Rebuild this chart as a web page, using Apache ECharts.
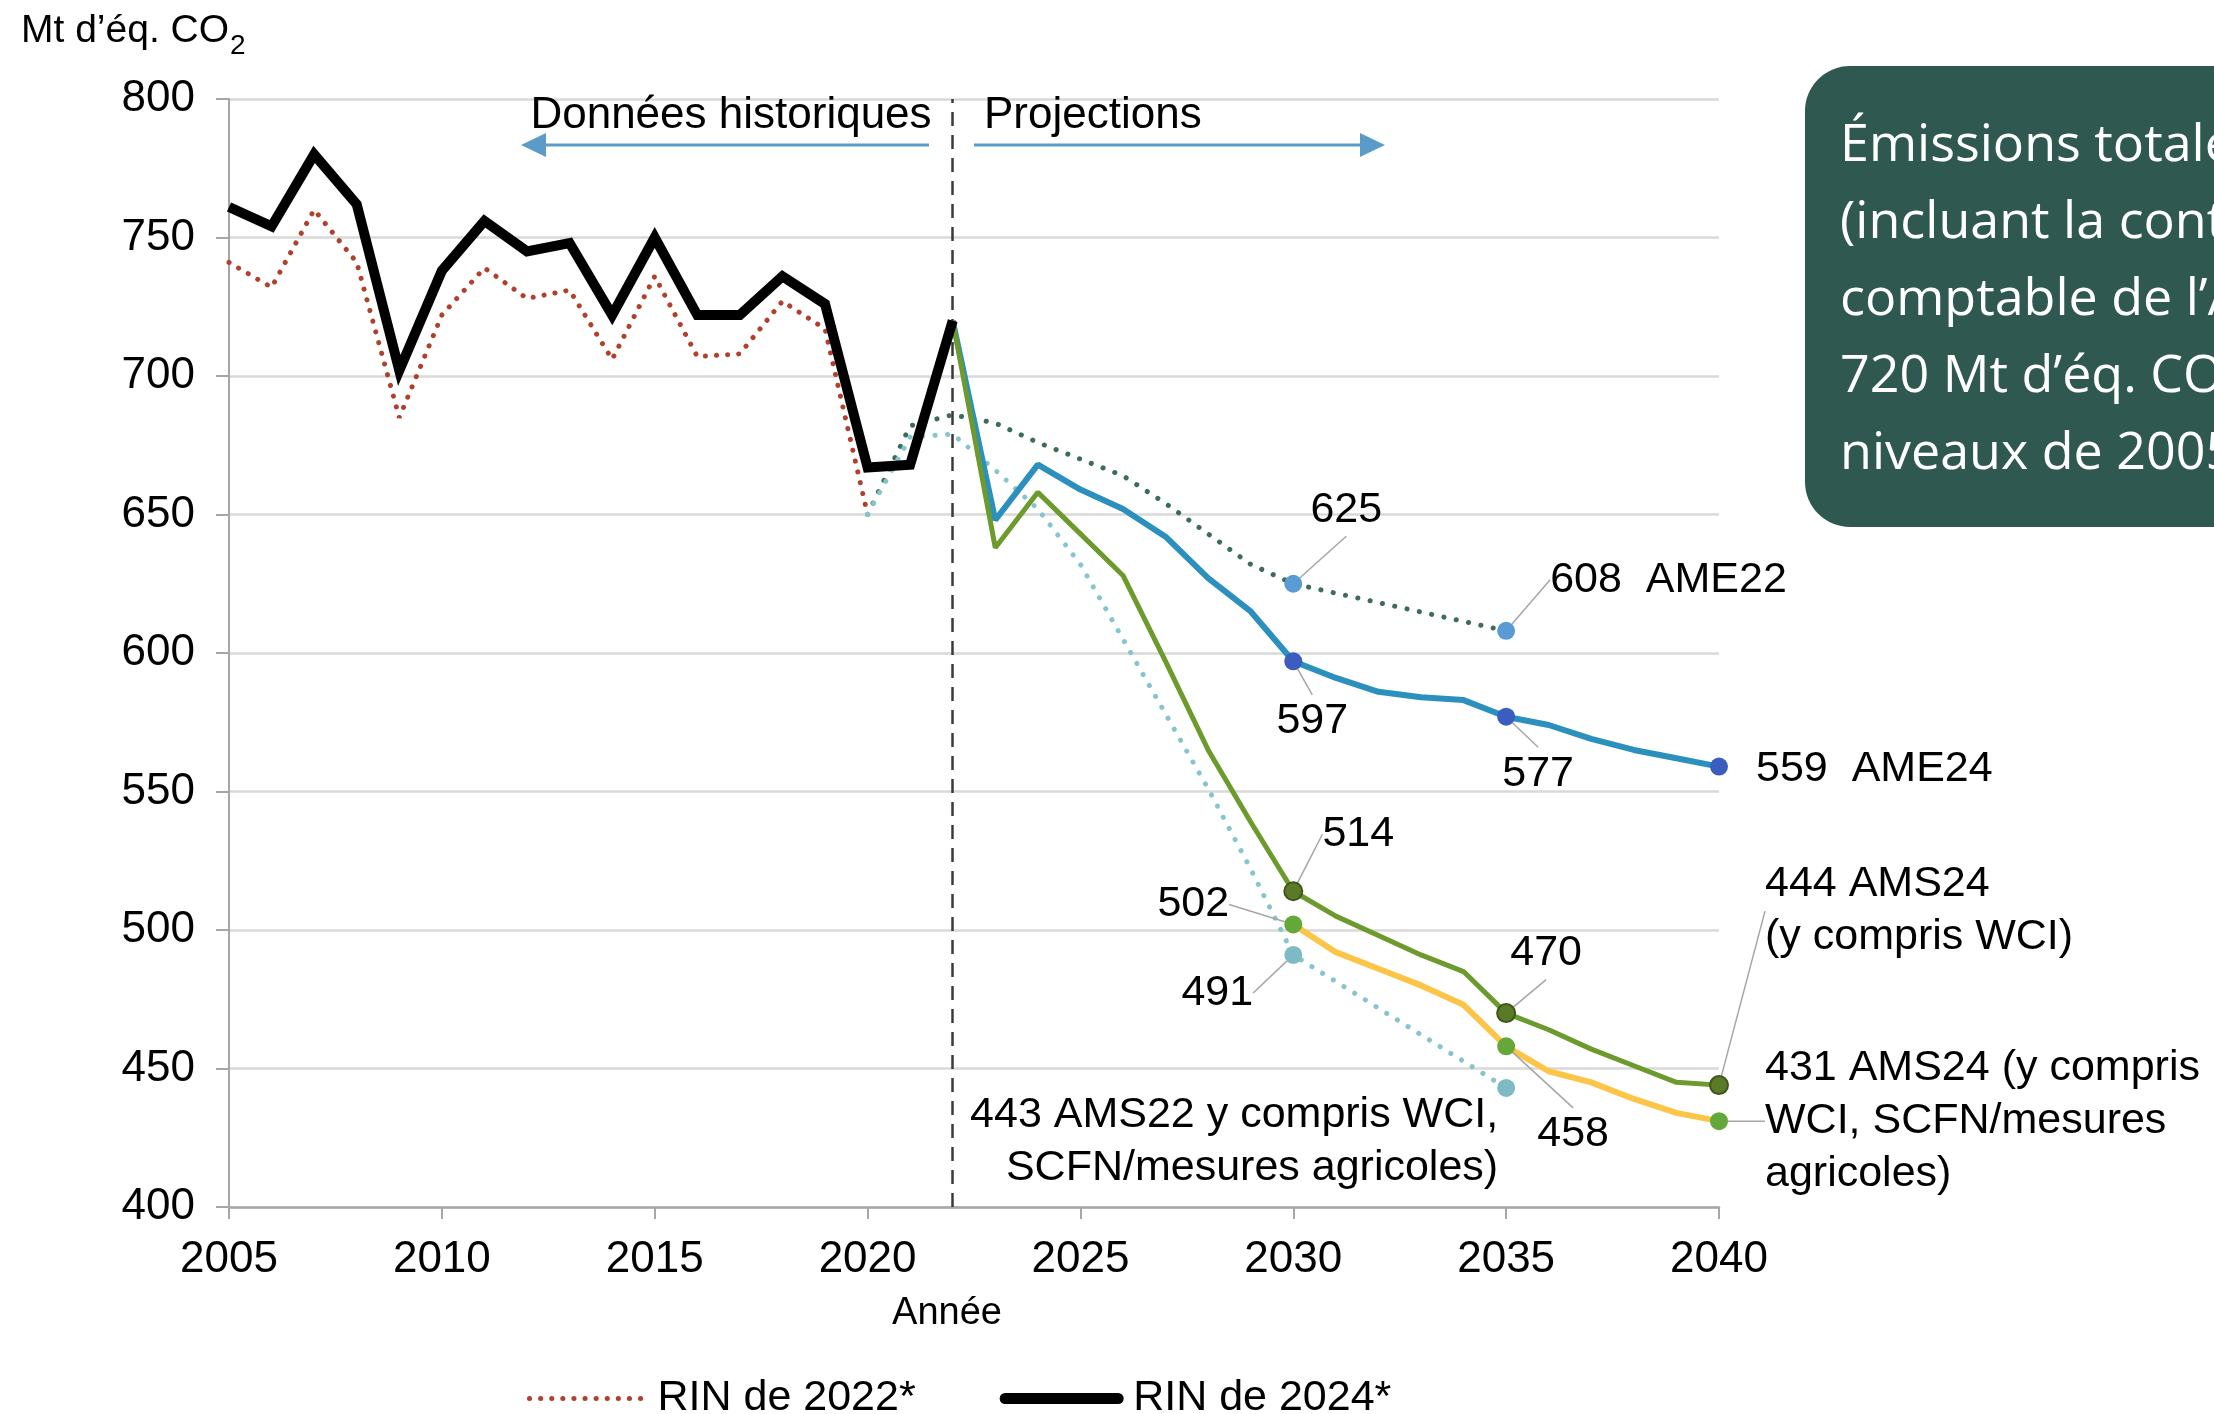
<!DOCTYPE html>
<html><head><meta charset="utf-8">
<script src="https://cdn.jsdelivr.net/npm/echarts@6/dist/echarts.min.js"></script>
<style>html,body{margin:0;padding:0;background:#fff}#c{width:2214px;height:1414px}</style>
</head><body><div id="c"></div>
<script>
// ---------- DATA ----------
const yearsRIN2022 = [2005,2006,2007,2008,2009,2010,2011,2012,2013,2014,2015,2016,2017,2018,2019,2020];
const rin2022 = [741,732,760,741,685,722,739,728,731,706,736,707,708,727,717,650];

const yearsRIN2024 = [2005,2006,2007,2008,2009,2010,2011,2012,2013,2014,2015,2016,2017,2018,2019,2020,2021,2022];
const rin2024 = [761,754,780,762,702,738,756,745,748,722,750,722,722,736,726,667,668,720];

const yearsAME22 = [2020,2021,2022,2023,2024,2025,2026,2027,2028,2029,2030,2035];
const ame22 = [650,682,686,683,676,670,664,654,643,632,625,608];

const yearsAMS22 = [2020,2021,2022,2023,2024,2025,2026,2027,2028,2029,2030,2035];
const ams22 = [650,678,679,666,652,632,605,578,551,522,491,443];

const yearsAME24 = [2022,2023,2024,2025,2026,2027,2028,2029,2030,2031,2032,2033,2034,2035,2036,2037,2038,2039,2040];
const ame24 = [720,648,668,659,652,642,627,615,597,591,586,584,583,577,574,569,565,562,559];

const yearsAMS24 = [2022,2023,2024,2025,2026,2027,2028,2029,2030,2031,2032,2033,2034,2035,2036,2037,2038,2039,2040];
const ams24 = [720,638,658,643,628,597,565,539,514,505,498,491,485,470,464,457,451,445,444];

const yearsAMS24b = [2030,2031,2032,2033,2034,2035,2036,2037,2038,2039,2040];
const ams24b = [502,492,486,480,473,458,449,445,439,434,431];

// marked points and the text that follows the value in their labels
const markedAME22 = [2030, 2035];           const suffixAME22 = ['', '  AME22'];
const markedAMS22 = [2030, 2035];           const suffixAMS22 = ['', ' AMS22 y compris WCI,\nSCFN/mesures agricoles)'];
const markedAME24 = [2030, 2035, 2040];     const suffixAME24 = ['', '', '  AME24'];
const markedAMS24 = [2030, 2035, 2040];     const suffixAMS24 = ['', '', ' AMS24\n(y compris WCI)'];
const markedAMS24b = [2030, 2035, 2040];    const suffixAMS24b = ['', '', ' AMS24 (y compris\nWCI, SCFN/mesures\nagricoles)'];

const xTicks = {min: 2005, max: 2040, step: 5};
const yTicks = {min: 400, max: 800, step: 50};

// ---------- STYLE / LAYOUT ----------
const FONT = '"Liberation Sans", Arial, Helvetica, sans-serif';
const labelPos = { // offsets from marker centre, by series index then year
  2: {2030: {dx: 53, dy: -74}, 2035: {dx: 44, dy: -51, align: 'left'}},
  3: {2030: {dx: -76, dy: 38}, 2035: {dx: -8, dy: 1, align: 'right', va: 'top', noLine: true}},
  4: {2030: {dx: 19, dy: 60}, 2035: {dx: 32, dy: 57}, 2040: {dx: 37, dy: 3, align: 'left', noLine: true}},
  5: {2030: {dx: 65, dy: -57}, 2035: {dx: 40, dy: -60}, 2040: {dx: 46, dy: -227, align: 'left', va: 'top'}},
  6: {2030: {dx: -100, dy: -20}, 2035: {dx: 67, dy: 88}, 2040: {dx: 46, dy: 0, align: 'left'}}
};
const seriesYears = [yearsRIN2022, yearsRIN2024, yearsAME22, yearsAMS22, yearsAME24, yearsAMS24, yearsAMS24b];

function build(years, vals, marked, suffix, color, border, sIdx) {
  return years.map((y, i) => {
    const k = marked.indexOf(y);
    if (k < 0) return {value: [y, vals[i]], symbol: 'none'};
    const spec = (labelPos[sIdx] || {})[y] || {};
    return {
      value: [y, vals[i]],
      symbol: 'circle', symbolSize: 18,
      itemStyle: {color: color, borderColor: border || color, borderWidth: border ? 2 : 0},
      label: {show: true, formatter: String(vals[i]) + suffix[k]},
      labelLine: {show: !spec.noLine}
    };
  });
}
function plain(years, vals) { return years.map((y, i) => [y, vals[i]]); }

function layoutFn(p) {
  const yr = seriesYears[p.seriesIndex][p.dataIndex];
  const spec = (labelPos[p.seriesIndex] || {})[yr];
  if (!spec) return {};
  const cx = p.rect.x + p.rect.width / 2, cy = p.rect.y + p.rect.height / 2;
  return {x: cx + spec.dx, y: cy + spec.dy, align: spec.align || 'center', verticalAlign: spec.va || 'middle'};
}

const labelBase = {show: false, fontSize: 43, color: '#000', fontFamily: FONT, lineHeight: 53};
const leader = {show: true, lineStyle: {color: '#A6A6A6', width: 1.5}};

const chart = echarts.init(document.getElementById('c'), null, {renderer: 'canvas'});
chart.setOption({
  animation: false,
  backgroundColor: '#fff',
  textStyle: {fontFamily: FONT},
  grid: {left: 229, right: 495, top: 99, bottom: 207, containLabel: false},
  xAxis: {
    type: 'value', min: xTicks.min, max: xTicks.max, interval: xTicks.step,
    axisLine: {show: true, lineStyle: {color: '#A6A6A6', width: 2.5}},
    axisTick: {show: true, length: 12, lineStyle: {color: '#A6A6A6', width: 2}},
    splitLine: {show: false},
    axisLabel: {fontSize: 44, color: '#000', margin: 31, fontFamily: FONT, formatter: v => String(v)},
    name: 'Année', nameLocation: 'middle', nameGap: 88,
    nameTextStyle: {fontSize: 38, color: '#000', fontFamily: FONT, padding: [0, 54, 0, 0]}
  },
  yAxis: {
    type: 'value', min: yTicks.min, max: yTicks.max, interval: yTicks.step,
    axisLine: {show: true, lineStyle: {color: '#A6A6A6', width: 2}},
    axisTick: {show: true, length: 13, lineStyle: {color: '#A6A6A6', width: 2}},
    splitLine: {show: true, lineStyle: {color: '#D9D9D9', width: 2.5}},
    axisLabel: {fontSize: 44, color: '#000', margin: 34, fontFamily: FONT}
  },
  legend: {
    data: [
      {name: 'RIN de 2022*', itemStyle: {opacity: 0},
       lineStyle: {color: '#B0402B', width: 5, type: [0.1, 11], cap: 'round'}},
      {name: 'RIN de 2024*', itemStyle: {opacity: 0},
       lineStyle: {color: '#000', width: 11, type: 'solid', cap: 'round'}}
    ],
    left: 522, top: 1372, itemWidth: 113, itemHeight: 24, itemGap: 84,
    textStyle: {fontSize: 43, color: '#000', fontFamily: FONT, padding: [0, 0, 0, 10]}
  },
  series: [
    {
      name: 'RIN de 2022*', type: 'line', data: plain(yearsRIN2022, rin2022), symbol: 'none', z: 2,
      lineStyle: {color: '#B0402B', width: 5, type: [0.1, 11], cap: 'round'},
      itemStyle: {color: '#B0402B'}
    },
    {
      name: 'RIN de 2024*', type: 'line', data: plain(yearsRIN2024, rin2024), symbol: 'none', z: 6,
      lineStyle: {color: '#000', width: 10, join: 'miter'},
      itemStyle: {color: '#000'},
      markLine: {
        silent: true, symbol: ['none', 'none'], label: {show: false},
        lineStyle: {color: '#3A3A3A', width: 2.5, type: [14, 9]},
        data: [{xAxis: 2022}]
      }
    },
    {
      name: 'AME22', type: 'line', z: 3,
      data: build(yearsAME22, ame22, markedAME22, suffixAME22, '#5B9BD5', null, 2),
      symbol: 'none', showSymbol: true,
      lineStyle: {color: '#3D6C58', width: 5, type: [0.1, 12.5], cap: 'round'},
      itemStyle: {color: '#3D6C58'},
      label: labelBase, labelLine: leader, labelLayout: layoutFn
    },
    {
      name: 'AMS22 (y compris WCI, SCFN/mesures agricoles)', type: 'line', z: 3,
      data: build(yearsAMS22, ams22, markedAMS22, suffixAMS22, '#7EBAC5', null, 3),
      symbol: 'none', showSymbol: true,
      lineStyle: {color: '#86C5CD', width: 5, type: [0.1, 12.5], cap: 'round'},
      itemStyle: {color: '#86C5CD'},
      label: labelBase, labelLine: leader, labelLayout: layoutFn
    },
    {
      name: 'AME24', type: 'line', z: 4,
      data: build(yearsAME24, ame24, markedAME24, suffixAME24, '#3B5DC0', null, 4),
      symbol: 'none', showSymbol: true,
      lineStyle: {color: '#2B90BE', width: 6},
      itemStyle: {color: '#2B90BE'},
      label: labelBase, labelLine: leader, labelLayout: layoutFn
    },
    {
      name: 'AMS24 (y compris WCI)', type: 'line', z: 5,
      data: build(yearsAMS24, ams24, markedAMS24, suffixAMS24, '#5B7A27', '#3F561A', 5),
      symbol: 'none', showSymbol: true,
      lineStyle: {color: '#6C9A2C', width: 5},
      itemStyle: {color: '#6C9A2C'},
      label: labelBase, labelLine: leader, labelLayout: layoutFn
    },
    {
      name: 'AMS24 (y compris WCI, SCFN/mesures agricoles)', type: 'line', z: 4,
      data: build(yearsAMS24b, ams24b, markedAMS24b, suffixAMS24b, '#64A83A', null, 6),
      symbol: 'none', showSymbol: true,
      lineStyle: {color: '#FCC548', width: 6},
      itemStyle: {color: '#FCC548'},
      label: labelBase, labelLine: leader, labelLayout: layoutFn
    }
  ],
  graphic: [
    { type: 'text', left: 21, top: 12, z: 10,
      style: {
        text: '{a|Mt d’éq. CO}{s|2}', fill: '#000',
        rich: {
          a: {fontSize: 39, fontFamily: FONT, fill: '#000', lineHeight: 48, verticalAlign: 'bottom'},
          s: {fontSize: 28, fontFamily: FONT, fill: '#000', lineHeight: 48, verticalAlign: 'bottom', padding: [0, 0, -9, 1]}
        }
      }
    },
    { type: 'text', x: 731, y: 116, z: 10,
      style: {text: 'Données historiques', font: '44px ' + FONT, fill: '#000', align: 'center', verticalAlign: 'middle'} },
    { type: 'text', x: 984, y: 116, z: 10,
      style: {text: 'Projections', font: '44px ' + FONT, fill: '#000', align: 'left', verticalAlign: 'middle'} },
    { type: 'line', z: 10, shape: {x1: 929, y1: 145, x2: 540, y2: 145}, style: {stroke: '#5B9BC8', lineWidth: 3} },
    { type: 'polygon', z: 10, shape: {points: [[521, 145], [546, 133], [546, 157]]}, style: {fill: '#5B9BC8'} },
    { type: 'line', z: 10, shape: {x1: 974, y1: 145, x2: 1366, y2: 145}, style: {stroke: '#5B9BC8', lineWidth: 3} },
    { type: 'polygon', z: 10, shape: {points: [[1385, 145], [1360, 133], [1360, 157]]}, style: {fill: '#5B9BC8'} },
    { type: 'rect', z: 10, shape: {x: 1805, y: 66, width: 520, height: 461, r: 45}, style: {fill: '#2F5950'} },
    { type: 'text', x: 1840, y: 108, z: 11,
      style: {
        text: 'Émissions totales\n(incluant la contribution\ncomptable de l’ATCATF)\n720 Mt d’éq. CO₂\nniveaux de 2005',
        font: '52px "Open Sans", "Noto Sans", sans-serif', fill: '#fff', lineHeight: 77,
        align: 'left', verticalAlign: 'top'
      }
    }
  ]
});
</script>
</body></html>
